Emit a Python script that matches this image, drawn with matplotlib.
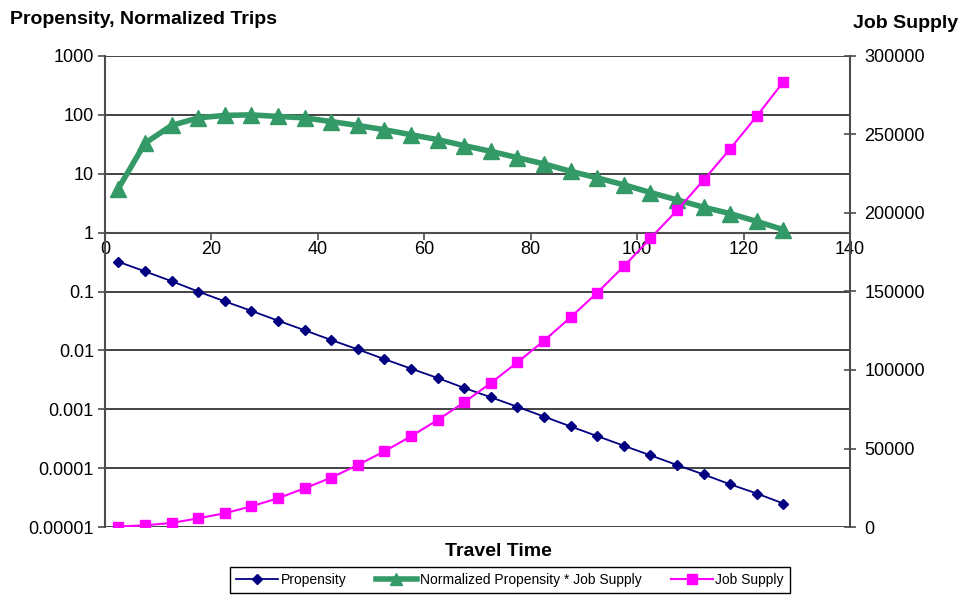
import matplotlib
matplotlib.use("Agg")
import matplotlib.pyplot as plt
from matplotlib.ticker import FixedLocator, FuncFormatter
from matplotlib.lines import Line2D

plt.rcParams['font.family'] = ['Liberation Sans', 'DejaVu Sans']

travel_time = [2.5, 7.5, 12.5, 17.5, 22.5, 27.5, 32.5, 37.5, 42.5, 47.5, 52.5, 57.5, 62.5,
               67.5, 72.5, 77.5, 82.5, 87.5, 92.5, 97.5, 102.5, 107.5, 112.5, 117.5, 122.5, 127.5]
propensity = [0.32, 0.22, 0.15, 0.10, 0.068, 0.047, 0.032, 0.022, 0.015, 0.0104, 0.0071, 0.0049,
              0.0034, 0.0023, 0.0016, 0.0011, 0.00075, 0.00051, 0.00035, 0.00024, 0.000165,
              0.000113, 0.000078, 0.000053, 0.000037, 0.000025]
normalized = [5.6, 33, 66, 89, 98, 100, 94, 89, 77, 66, 56, 46, 38, 30, 24, 18.8, 14.7, 11,
              8.5, 6.5, 4.8, 3.6, 2.7, 2.1, 1.55, 1.12]
job_supply = [300, 1100, 2550, 5540, 8730, 13180, 18280, 24650, 31400, 39490, 48200, 57770,
              68150, 79420, 91720, 104900, 118660, 133560, 149240, 166050, 183900, 201700,
              221000, 240950, 261800, 283630]

left_ticks = [0.00001, 0.0001, 0.001, 0.01, 0.1, 1, 10, 100, 1000]
right_ticks = [0, 50000, 100000, 150000, 200000, 250000, 300000]
x_ticks = [0, 20, 40, 60, 80, 100, 120, 140]

navy = '#000080'
green = '#339966'
magenta = '#FF00FF'
axis_gray = '#4d4d4d'

fig = plt.figure(figsize=(9.61, 5.95), dpi=100)
ax = fig.add_axes([105/961, 1-527/595, (850-105)/961, (527-56)/595])
ax2 = ax.twinx()

ax.set_yscale('log')
ax.set_ylim(1e-5, 1000)
ax.set_xlim(0, 140)
ax2.set_ylim(0, 300000)

ax.yaxis.set_major_locator(FixedLocator(left_ticks))
ax.yaxis.set_minor_locator(FixedLocator([]))
ax.yaxis.set_major_formatter(FuncFormatter(lambda v, p: ('%.5f' % v).rstrip('0').rstrip('.')))
ax.xaxis.set_major_locator(FixedLocator(x_ticks))
ax2.yaxis.set_major_locator(FixedLocator(right_ticks))
ax2.yaxis.set_major_formatter(FuncFormatter(lambda v, p: '%d' % v))

ax.grid(axis='y', color='#111111', linewidth=1.1)
ax.set_axisbelow(True)

for s in ['top', 'right']:
    ax.spines[s].set_visible(False)
for s in ['top', 'left', 'bottom']:
    ax2.spines[s].set_visible(False)
ax.spines['bottom'].set_position(('data', 1))
ax.spines['bottom'].set_color(axis_gray)
ax.spines['bottom'].set_linewidth(1.5)
ax.spines['left'].set_color(axis_gray)
ax.spines['left'].set_linewidth(1.5)
ax2.spines['right'].set_color(axis_gray)
ax2.spines['right'].set_linewidth(1.5)

ax.tick_params(axis='y', which='major', direction='out', length=5, width=1.2, color=axis_gray,
               labelsize=13, pad=3)
ax.tick_params(axis='x', direction='out', length=5, width=1.2, color=axis_gray, labelsize=13, pad=1)
ax2.tick_params(axis='y', direction='inout', length=9, width=1.2, color=axis_gray, labelsize=13, pad=6)

ax.plot(travel_time, propensity, color=navy, lw=1.3, marker='D', ms=5, mfc=navy, mec=navy, zorder=3)
ax.plot(travel_time, normalized, color=green, lw=4, marker='^', ms=11, mfc=green, mec=green, zorder=4)
ax2.plot(travel_time, job_supply, color=magenta, lw=1.5, marker='s', ms=7.5, mfc=magenta, mec=magenta)

fig.text(10/961, 1-20/595, 'Propensity, Normalized Trips', fontsize=14, fontweight='bold',
         ha='left', va='center')
fig.text(958/961, 1-24/595, 'Job Supply', fontsize=14, fontweight='bold', ha='right', va='center')
fig.text(498/961, 1-551/595, 'Travel Time', fontsize=14, fontweight='bold', ha='center', va='center')

handles = [Line2D([], [], color=navy, lw=1.3, marker='D', ms=5),
           Line2D([], [], color=green, lw=4, marker='^', ms=9),
           Line2D([], [], color=magenta, lw=1.5, marker='s', ms=7)]
labels = ['Propensity', 'Normalized Propensity * Job Supply', 'Job Supply']
leg = fig.legend(handles, labels, loc='center', bbox_to_anchor=(510/961, 1-580/595), ncol=3,
                 fontsize=10, frameon=True, fancybox=False, edgecolor='black', framealpha=1,
                 borderpad=0.45, handlelength=3, columnspacing=2.1, handletextpad=0.2,
                 borderaxespad=0)
leg.get_frame().set_linewidth(1.0)

fig.savefig('out.png', dpi=100)
